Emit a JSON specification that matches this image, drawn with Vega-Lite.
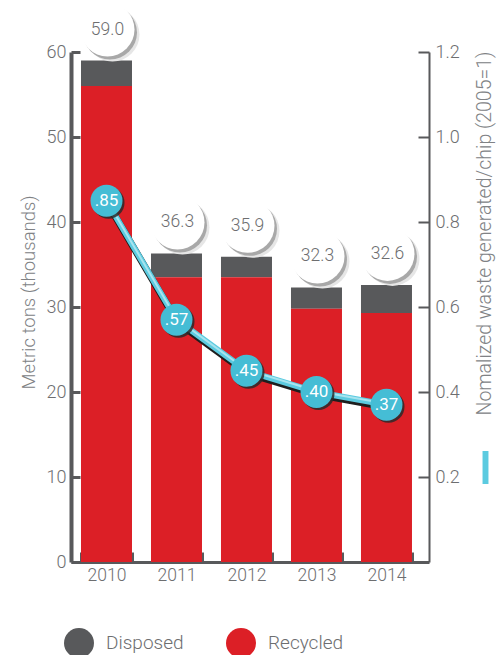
{
  "$schema": "https://vega.github.io/schema/vega-lite/v6.json",
  "width": 358,
  "height": 510,
  "autosize": {"type": "none"},
  "padding": {"left": 71, "top": 52, "right": 68, "bottom": 93},
  "background": "white",
  "config": {
    "view": {"stroke": null},
    "font": "Roboto, sans-serif",
    "axis": {"grid": false}
  },
  "datasets": {
    "years": [
      {"year": "2010", "total": 59.0, "Recycled": 56.0, "Disposed": 3.0, "norm": 0.85, "label": ".85"},
      {"year": "2011", "total": 36.3, "Recycled": 33.5, "Disposed": 2.8, "norm": 0.57, "label": ".57"},
      {"year": "2012", "total": 35.9, "Recycled": 33.5, "Disposed": 2.4, "norm": 0.45, "label": ".45"},
      {"year": "2013", "total": 32.3, "Recycled": 29.8, "Disposed": 2.5, "norm": 0.40, "label": ".40"},
      {"year": "2014", "total": 32.6, "Recycled": 29.3, "Disposed": 3.3, "norm": 0.37, "label": ".37"}
    ]
  },
  "data": {"name": "years"},
  "resolve": {"scale": {"y": "independent"}},
  "layer": [
    {
      "layer": [
        {
          "transform": [{"fold": ["Disposed", "Recycled"], "as": ["type", "value"]}],
          "mark": {"type": "bar"},
          "encoding": {
            "x": {
              "field": "year", "type": "nominal",
              "scale": {"paddingInner": 0.2714, "paddingOuter": 0.193, "align": 0.37},
              "axis": {
                "title": null, "labelAngle": 0, "tickBand": "extent",
                "tickSize": -10, "tickWidth": 3, "tickColor": "#58595b",
                "domainWidth": 3, "domainColor": "#58595b",
                "labelFontSize": 17.5, "labelFontWeight": 300, "labelColor": "#6d6e70", "labelPadding": 14
              }
            },
            "y": {
              "field": "value", "type": "quantitative", "stack": "zero",
              "scale": {"domain": [0, 60], "nice": false},
              "axis": {
                "orient": "left", "values": [0, 10, 20, 30, 40, 50, 60],
                "tickSize": -9, "tickWidth": 3, "tickColor": "#58595b",
                "domainWidth": 4, "domainColor": "#58595b",
                "labelFontSize": 18, "labelFontWeight": 300, "labelColor": "#6d6e70", "labelPadding": 14,
                "title": "Metric tons (thousands)", "titleFontSize": 18.5,
                "titleFontWeight": 300, "titleColor": "#808285",
                "titleX": -43, "titleY": 240, "titleAngle": -90,
                "titleAlign": "center", "titleBaseline": "middle"
              }
            },
            "color": {
              "field": "type", "type": "nominal",
              "scale": {"domain": ["Disposed", "Recycled"], "range": ["#58595b", "#dc1f26"]},
              "legend": {
                "orient": "none", "legendX": -7, "legendY": 576,
                "direction": "horizontal", "title": null,
                "symbolType": "circle", "symbolSize": 900, "symbolStrokeWidth": 0,
                "symbolOpacity": 1, "labelFontSize": 19, "labelFontWeight": 300, "labelColor": "#6d6e70",
                "labelOffset": 12, "columnPadding": 42, "padding": 0
              }
            },
            "order": {"field": "type", "sort": "descending"}
          }
        },
        {
          "mark": {"type": "circle", "size": 2916, "color": "#e6e6e6", "opacity": 1, "xOffset": 6, "yOffset": -26},
          "encoding": {
            "x": {"field": "year", "type": "nominal"},
            "y": {"field": "total", "type": "quantitative"}
          }
        },
        {
          "mark": {"type": "circle", "size": 2916, "color": "#a8a8a8", "opacity": 1, "xOffset": 3.5, "yOffset": -28},
          "encoding": {
            "x": {"field": "year", "type": "nominal"},
            "y": {"field": "total", "type": "quantitative"}
          }
        },
        {
          "mark": {"type": "circle", "size": 2916, "color": "white", "opacity": 1, "xOffset": 1, "yOffset": -31},
          "encoding": {
            "x": {"field": "year", "type": "nominal"},
            "y": {"field": "total", "type": "quantitative"}
          }
        },
        {
          "mark": {"type": "text", "fontSize": 17.5, "fontWeight": 300, "color": "#6d6e70", "baseline": "middle", "align": "center", "xOffset": 1, "yOffset": -31},
          "encoding": {
            "x": {"field": "year", "type": "nominal"},
            "y": {"field": "total", "type": "quantitative"},
            "text": {"field": "total", "type": "quantitative", "format": ".1f"}
          }
        }
      ]
    },
    {
      "layer": [
        {
          "mark": {"type": "line", "strokeWidth": 7, "color": "#1e1e1e", "xOffset": 1, "yOffset": 2.5},
          "encoding": {
            "x": {"field": "year", "type": "nominal"},
            "y": {
              "field": "norm", "type": "quantitative",
              "scale": {"domain": [0, 1.2], "nice": false},
              "axis": {
                "orient": "right", "values": [0.2, 0.4, 0.6, 0.8, 1.0, 1.2], "format": ".1f",
                "tickSize": -11, "tickWidth": 2, "tickColor": "#58595b",
                "domainWidth": 2, "domainColor": "#58595b",
                "labelFontSize": 18, "labelFontWeight": 300, "labelColor": "#6d6e70", "labelPadding": 17,
                "title": "Nomalized waste generated/chip (2005=1)", "titleFontSize": 19.5,
                "titleFontWeight": 300, "titleColor": "#808285",
                "titleX": 55, "titleY": 181, "titleAngle": -90,
                "titleAlign": "center", "titleBaseline": "middle"
              }
            }
          }
        },
        {
          "mark": {"type": "line", "strokeWidth": 6},
          "encoding": {
            "x": {"field": "year", "type": "nominal"},
            "y": {"field": "norm", "type": "quantitative"},
            "stroke": {
              "datum": "norm", "type": "nominal",
              "scale": {"range": ["#5ccbe0"]},
              "legend": {
                "orient": "none", "legendX": 398, "legendY": 399, "title": null,
                "labelExpr": "''", "padding": 0,
                "symbolType": "M-0.18,-1H0.18V1H-0.18Z", "symbolSize": 1089,
                "symbolFillColor": "#5ccbe0", "symbolStrokeWidth": 0,
                "encode": {"symbols": {"update": {"fill": {"value": "#5ccbe0"}, "strokeWidth": {"value": 0}}}}
              }
            }
          }
        },
        {
          "mark": {"type": "line", "strokeWidth": 2, "color": "#a8e4ef", "yOffset": -1},
          "encoding": {
            "x": {"field": "year", "type": "nominal"},
            "y": {"field": "norm", "type": "quantitative"}
          }
        },
        {
          "mark": {"type": "circle", "size": 1024, "color": "#2a2a2a", "opacity": 0.85, "xOffset": 2, "yOffset": 2},
          "encoding": {
            "x": {"field": "year", "type": "nominal"},
            "y": {"field": "norm", "type": "quantitative"}
          }
        },
        {
          "mark": {"type": "circle", "size": 1024, "color": "#45bdd5", "opacity": 1},
          "encoding": {
            "x": {"field": "year", "type": "nominal"},
            "y": {"field": "norm", "type": "quantitative"}
          }
        },
        {
          "mark": {"type": "text", "fontSize": 17, "color": "white", "baseline": "middle", "align": "center"},
          "encoding": {
            "x": {"field": "year", "type": "nominal"},
            "y": {"field": "norm", "type": "quantitative"},
            "text": {"field": "label", "type": "nominal"}
          }
        }
      ]
    }
  ]
}
